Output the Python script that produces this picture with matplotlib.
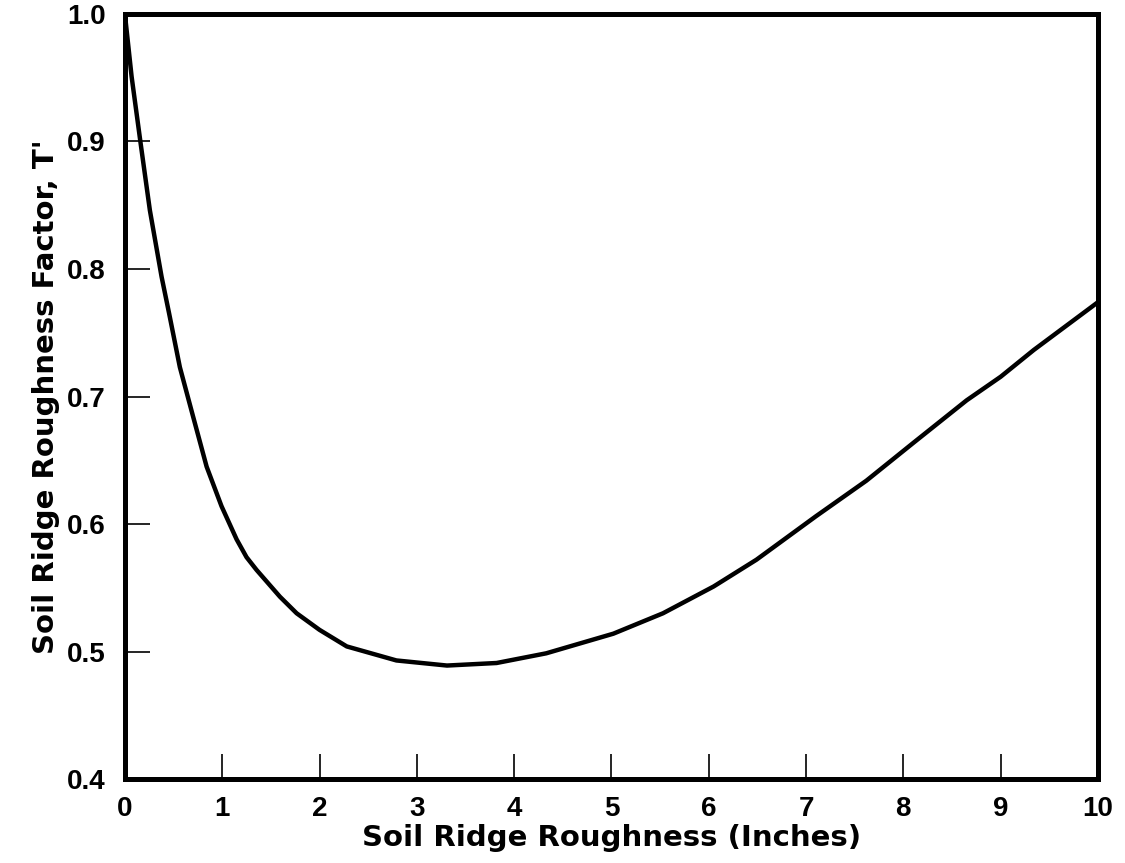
import matplotlib.pyplot as plt

plt.rcParams['font.family'] = ['Liberation Sans', 'DejaVu Sans']
plt.rcParams['font.weight'] = 'bold'

# Ridge roughness (inches) vs. roughness factor T'
ridge_in = [0.0, 0.069, 0.161, 0.257, 0.377, 0.455, 0.565, 0.702, 0.84, 0.993,
            1.148, 1.25, 1.353, 1.593, 1.765, 2.0, 2.28, 2.79, 3.31, 3.82, 4.33,
            5.02, 5.53, 6.05, 6.49, 7.1, 7.62, 8.1, 8.65, 9.0, 9.34, 10.0]
factor = [1.0, 0.951, 0.899, 0.846, 0.794, 0.765, 0.723, 0.684, 0.645, 0.614,
          0.588, 0.574, 0.564, 0.543, 0.530, 0.517, 0.504, 0.493, 0.489, 0.491, 0.4986,
          0.514, 0.530, 0.551, 0.572, 0.606, 0.634, 0.6635, 0.697, 0.7155, 0.7365, 0.774]

x_ticks = list(range(0, 11))
y_ticks = [0.4, 0.5, 0.6, 0.7, 0.8, 0.9, 1.0]

fig = plt.figure(figsize=(11.25, 8.63), dpi=100)
ax = fig.add_axes([0.111, 0.0973, 0.865, 0.8865])

ax.plot(ridge_in, factor, color='black', linewidth=3.2,
        solid_capstyle='round', solid_joinstyle='round')

ax.set_xlim(0, 10)
ax.set_ylim(0.4, 1.0)
ax.set_xticks(x_ticks)
ax.set_yticks(y_ticks)
ax.set_xticklabels([str(t) for t in x_ticks])
ax.set_yticklabels([f'{t:.1f}' for t in y_ticks])

ax.tick_params(axis='both', direction='in', length=18, width=1.2,
               labelsize=20, pad=12, colors='black')
ax.tick_params(axis='y', pad=14)

for side in ax.spines.values():
    side.set_linewidth(3.6)

# wider face for the axis titles
label_font = dict(family='DejaVu Sans', fontsize=21, fontweight='bold')
ax.set_xlabel('Soil Ridge Roughness (Inches)', labelpad=2, **label_font)
ax.set_ylabel("Soil Ridge Roughness Factor, T'", labelpad=5, **label_font)

fig.savefig('out.png', dpi=100)
